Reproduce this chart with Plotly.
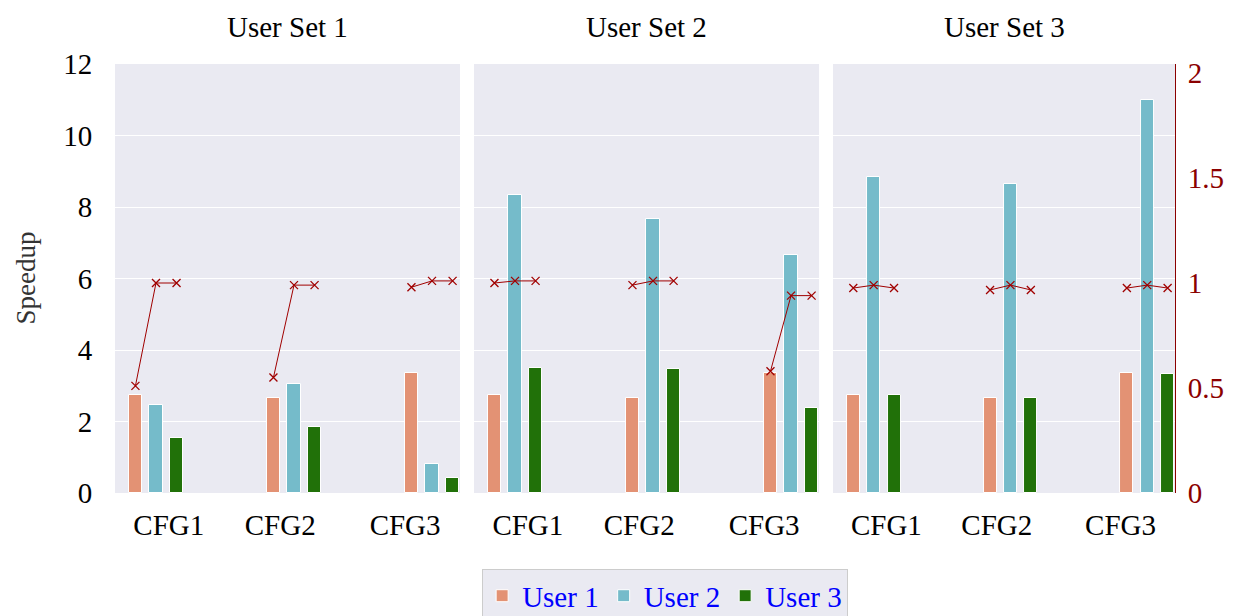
import plotly.graph_objects as go

# ---- data ---------------------------------------------------------------
user_sets = ["User Set 1", "User Set 2", "User Set 3"]
configs = ["CFG1", "CFG2", "CFG3"]
users = ["User 1", "User 2", "User 3"]

# speedup per user set -> per config
speedup_user1 = [[2.75, 2.67, 3.35], [2.75, 2.67, 3.35], [2.75, 2.67, 3.35]]
speedup_user2 = [[2.47, 3.04, 0.81], [8.33, 7.67, 6.65], [8.84, 8.64, 10.99]]
speedup_user3 = [[1.54, 1.86, 0.41], [3.50, 3.46, 2.38], [2.75, 2.67, 3.34]]

# secondary metric (right axis), per user set -> per config -> per user
ratio = [
    [[0.51, 1.00, 1.00], [0.55, 0.99, 0.99], [0.98, 1.01, 1.01]],
    [[1.00, 1.01, 1.01], [0.99, 1.01, 1.01], [0.58, 0.94, 0.94]],
    [[0.976, 0.99, 0.976], [0.967, 0.99, 0.967], [0.976, 0.99, 0.976]],
]

left_ticks = [0, 2, 4, 6, 8, 10, 12]
right_ticks = [0, 0.5, 1, 1.5, 2]
right_tick_text = ["0", "0.5", "1", "1.5", "2"]

# ---- styling ------------------------------------------------------------
FONT = "Liberation Serif"
FS = 29
colors = ["#E39274", "#75BBCA", "#217109"]
line_color = "#A00000"
axis_red = "#8B0000"
bg = "#EAEAF2"

bar_step = 0.149      # distance between neighbouring bars in a group
bar_width = 0.095
x_range = [-0.297, 2.203]
label_pos = [0.093, 0.9, 1.805]

domains = [[0.0, 0.3255], [0.3387, 0.6642], [0.6774, 1.0]]

speedups = [speedup_user1, speedup_user2, speedup_user3]

fig = go.Figure()

for p in range(3):
    xa = "x" if p == 0 else f"x{p + 1}"
    ya = "y" if p == 0 else f"y{p + 1}"
    ya2 = f"y{p + 4}"
    for u in range(3):
        xs = [c + (u - 1) * bar_step for c in range(len(configs))]
        fig.add_trace(go.Bar(
            x=xs, y=speedups[u][p], width=bar_width,
            marker=dict(color=colors[u], line=dict(color="white", width=1)),
            name=users[u], legendgroup=users[u], showlegend=(p == 0),
            xaxis=xa, yaxis=ya,
        ))
    lx, ly = [], []
    for c in range(len(configs)):
        for u in range(3):
            lx.append(c + (u - 1) * bar_step)
            ly.append(ratio[p][c][u])
        lx.append(None)
        ly.append(None)
    fig.add_trace(go.Scatter(
        x=lx, y=ly, mode="lines+markers", showlegend=False,
        line=dict(color=line_color, width=1),
        marker=dict(symbol="x-thin", size=8, line=dict(color=line_color, width=1.3)),
        xaxis=xa, yaxis=ya2, connectgaps=False,
    ))

layout = dict(
    width=1241, height=616,
    margin=dict(l=115, r=66, t=64, b=123, autoexpand=False),
    paper_bgcolor="white", plot_bgcolor=bg,
    font=dict(family=FONT, size=FS, color="black"),
    bargap=0,
    legend=dict(
        orientation="h", x=0.519, xanchor="center", y=-0.178, yanchor="top",
        bgcolor=bg, bordercolor="#CCCCCC", borderwidth=1,
        font=dict(family=FONT, size=FS, color="#0000FF"),
        itemwidth=30, tracegroupgap=0,
    ),
)

for p in range(3):
    suffix = "" if p == 0 else str(p + 1)
    layout[f"xaxis{suffix}"] = dict(
        domain=domains[p], range=x_range, anchor="y" + suffix,
        tickvals=label_pos, ticktext=configs,
        showgrid=False, zeroline=False, showline=False,
        ticks="outside", ticklen=6, tickcolor="rgba(0,0,0,0)",
        tickfont=dict(family=FONT, size=FS, color="black"),
    )
    layout[f"yaxis{suffix}"] = dict(
        domain=[0, 1], range=[0, 12], anchor="x" + suffix,
        tickvals=left_ticks, showticklabels=(p == 0),
        showgrid=True, gridcolor="white", gridwidth=1,
        zeroline=False, showline=False,
        ticks="outside", ticklen=16, tickcolor="rgba(0,0,0,0)",
        tickfont=dict(family=FONT, size=FS, color="black"),
        **({} if p == 0 else {"matches": "y"}),
    )
    layout[f"yaxis{p + 4}"] = dict(
        overlaying="y" + suffix, anchor="x" + suffix, side="right",
        range=[0, 2.043], tickvals=right_ticks, ticktext=right_tick_text,
        showgrid=False, zeroline=False,
        visible=(p == 2),
        showline=(p == 2), linecolor=axis_red, linewidth=1,
        ticks="outside", ticklen=6, tickcolor="rgba(0,0,0,0)",
        tickfont=dict(family=FONT, size=FS, color=axis_red),
    )

annotations = []
for p in range(3):
    annotations.append(dict(
        text=user_sets[p], xref="paper", yref="paper",
        x=(domains[p][0] + domains[p][1]) / 2, y=(493 - 27) / 429,
        xanchor="center", yanchor="middle", showarrow=False,
        font=dict(family=FONT, size=FS, color="black"),
    ))
annotations.append(dict(
    text="Speedup", xref="paper", yref="paper",
    x=(25 - 115) / 1060, y=0.5, textangle=-90,
    xanchor="center", yanchor="middle", showarrow=False,
    font=dict(family=FONT, size=FS - 2, color="#333333"),
))
layout["annotations"] = annotations

fig.update_layout(**layout)
fig.write_html("out.html")
